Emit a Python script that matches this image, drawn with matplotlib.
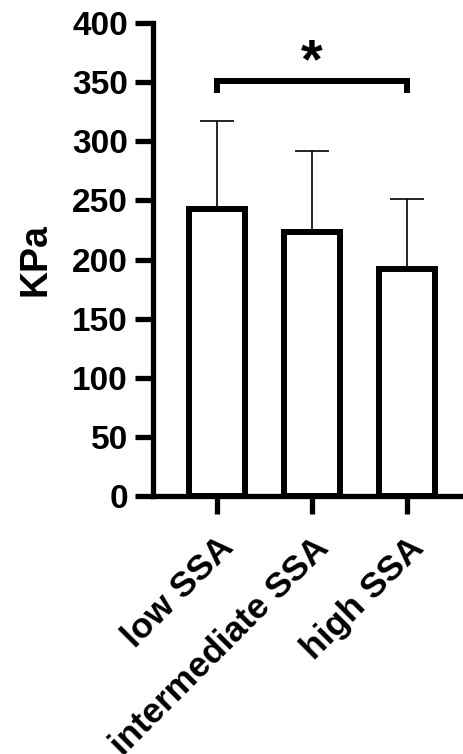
import matplotlib
matplotlib.use("Agg")
import matplotlib.pyplot as plt

categories = ["low SSA", "intermediate SSA", "high SSA"]
means = [243, 223, 192]
sds = [74, 69, 59]
yticks = [0, 50, 100, 150, 200, 250, 300, 350, 400]
sig_pair = (0, 2)
sig_y = 351
sig_drop = 10
sig_label = "*"

plt.rcParams['font.family'] = ['Liberation Sans', 'DejaVu Sans']
plt.rcParams['font.weight'] = 'bold'

fig = plt.figure(figsize=(4.63, 7.54), dpi=100)
ax = fig.add_axes([0.330, 0.342, 0.670, 0.6275])

x = list(range(len(categories)))
lw = 4.3
ax.errorbar(x, means, yerr=[[0] * len(sds), sds], fmt='none', ecolor='black',
            elinewidth=1.2, capsize=11.9, capthick=1.2, zorder=1)
ax.bar(x, means, width=0.585, color='white', edgecolor='black', linewidth=lw, zorder=2)

ax.set_xlim(-0.674, 2.589)
ax.set_ylim(0, 400)
ax.set_yticks(yticks)
ax.set_xticks(x)
ax.set_xticklabels(categories, rotation=45, ha='right', rotation_mode='anchor',
                   fontsize=25.5, fontweight='bold')
ax.tick_params(axis='y', labelsize=24, width=3.8, length=13, pad=5)
ax.tick_params(axis='x', width=3.8, length=13, pad=12)
for lab in ax.get_yticklabels():
    lab.set_fontweight('bold')
ax.set_ylabel("KPa", fontsize=27, fontweight='bold')
ax.yaxis.set_label_coords(-0.32, 0.5)

for s in ['top', 'right']:
    ax.spines[s].set_visible(False)
for s in ['left', 'bottom']:
    ax.spines[s].set_linewidth(3.8)

x0, x1 = sig_pair
ax.plot([x0, x0, x1, x1], [sig_y - sig_drop, sig_y, sig_y, sig_y - sig_drop],
        color='black', lw=lw, solid_capstyle='butt', solid_joinstyle='miter', clip_on=False)
ax.text((x0 + x1) / 2, sig_y - 7, sig_label, ha='center', va='bottom',
        fontsize=40, fontweight='bold')

fig.savefig("out.png", dpi=100)
